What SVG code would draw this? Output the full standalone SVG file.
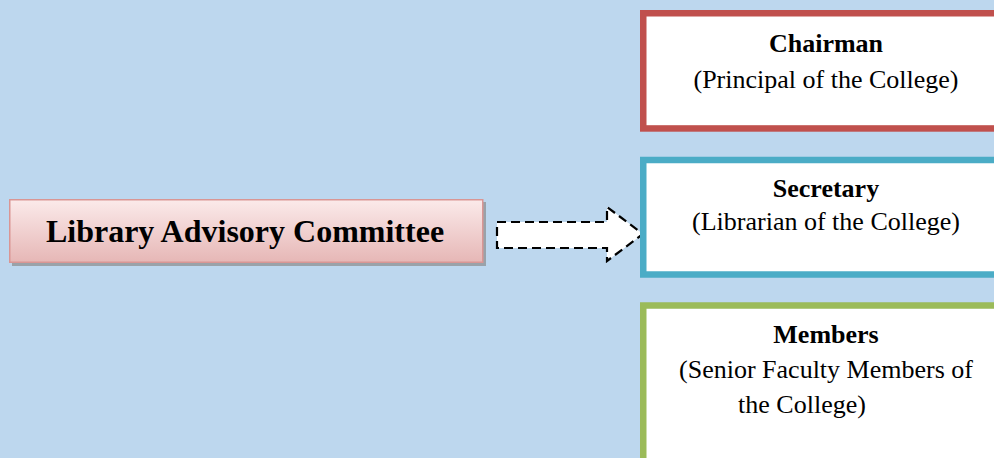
<svg xmlns="http://www.w3.org/2000/svg" width="994" height="458" viewBox="0 0 994 458">
<style>
.bold{font-family:"Liberation Serif","Times New Roman",serif;font-weight:bold;fill:#000}
.reg{font-family:"Liberation Serif","Times New Roman",serif;fill:#000}
.box{fill:#fff;stroke-width:6.5}
</style>
<defs>
<linearGradient id="pink" x1="0" y1="0" x2="0" y2="1">
<stop offset="0" stop-color="#FBEAEA"/>
<stop offset="1" stop-color="#E6B7B6"/>
</linearGradient>
</defs>
<rect x="0" y="0" width="994" height="458" fill="#BDD7EE"/>
<g id="lac">
<rect x="12" y="202" width="474" height="64" fill="#8C8C8C" opacity="0.7"/>
<rect x="9.75" y="199.75" width="473" height="62.5" fill="url(#pink)" stroke="#D99694" stroke-width="1.5"/>
<text class="bold" x="245" y="241.5" font-size="32" text-anchor="middle">Library Advisory Committee</text>
</g>
<g id="connectors">
<path d="M497,222 H607 V207 L643,234 L607,261 V248 H497 Z" fill="#fff" stroke="#000" stroke-width="2.2" stroke-dasharray="9,5" stroke-linejoin="miter"/>
</g>
<g id="chairman">
<rect class="box" x="643.25" y="13.25" width="370" height="115.2" stroke="#C0504D"/>
<text class="bold" x="826" y="52" font-size="26" text-anchor="middle">Chairman</text>
<text class="reg" x="826" y="87.5" font-size="26" text-anchor="middle">(Principal of the College)</text>
</g>
<g id="secretary">
<rect class="box" x="643.25" y="160" width="370" height="114.5" stroke="#4BACC6"/>
<text class="bold" x="826" y="196.5" font-size="26" text-anchor="middle">Secretary</text>
<text class="reg" x="826" y="230" font-size="26" text-anchor="middle">(Librarian of the College)</text>
</g>
<g id="members">
<rect class="box" x="643.25" y="305.5" width="370" height="170" stroke="#9BBB59"/>
<text class="bold" x="826" y="343" font-size="26" text-anchor="middle">Members</text>
<text class="reg" x="826" y="378" font-size="26" text-anchor="middle">(Senior Faculty Members of</text>
<text class="reg" x="802" y="413" font-size="26" text-anchor="middle">the College)</text>
</g>
</svg>
